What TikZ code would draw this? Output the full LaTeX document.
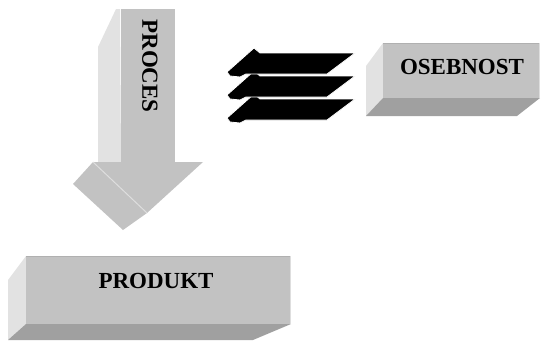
\documentclass[tikz,border=0pt]{standalone}
\usepackage{fontspec}
\setmainfont{Liberation Serif}
\definecolor{facefront}{RGB}{194,194,194}
\definecolor{faceside}{RGB}{226,226,226}
\definecolor{facebottom}{RGB}{160,160,160}
\definecolor{edgelight}{RGB}{222,222,222}
\definecolor{edgedark}{RGB}{176,176,176}
\tikzset{
  front/.style={fill=facefront},
  side/.style={fill=faceside},
  bottomface/.style={fill=facebottom},
  label/.style={font=\fontsize{23}{23}\selectfont\bfseries, inner sep=0pt},
  flatarrow/.style={fill=black, draw=white, line width=0.8pt, line join=miter}
}
\begin{document}
\begin{tikzpicture}[x=1pt,y=-1pt]
\useasboundingbox (0,0) rectangle (543,340);
% ---- down arrow (PROCES)
\fill[side] (120,9) -- (116,9) -- (98,47) -- (98,162) -- (121,162) -- cycle;
\fill[front] (121,9) rectangle (175,162);
\fill[front] (93,162) -- (73,184) -- (123,230) -- (147,213) -- (203,162) -- cycle;
\draw[edgelight, line width=1pt] (93,162) -- (147,213);
\node[label, rotate=-90] (proces) at (150,66) {PROCES};
% ---- three flat arrows
\foreach \dy in {46,23,0}{
  \filldraw[flatarrow, shift={(0,\dy)}]
    (260,53) -- (355,53) -- (327,74) -- (246,74) -- (240,77) -- (230,76)
    -- (227,72) -- (254,48) -- cycle;
}
% ---- OSEBNOST box
\fill[side] (383,43) -- (366,66) -- (366,116) -- (383,98) -- cycle;
\fill[bottomface] (383,98) -- (540,98) -- (517,116) -- (366,116) -- cycle;
\fill[front] (383,43) rectangle (540,98);
\draw[edgedark, line width=0.8pt] (383,43.4) -- (540,43.4);
\draw[edgelight, line width=0.8pt] (539.6,43) -- (539.6,98);
\node[label] (osebnost) at (462,67) {OSEBNOST};
% ---- PRODUKT box
\fill[side] (26,256) -- (8,280) -- (8,340) -- (26,324) -- cycle;
\fill[bottomface] (26,324) -- (291,324) -- (253,340) -- (8,340) -- cycle;
\fill[front] (26,256) rectangle (291,324);
\draw[edgedark, line width=0.8pt] (26,256.4) -- (291,256.4);
\draw[edgelight, line width=0.8pt] (290.6,256) -- (290.6,324);
\node[label] (produkt) at (156,281) {PRODUKT};
\end{tikzpicture}
\end{document}
